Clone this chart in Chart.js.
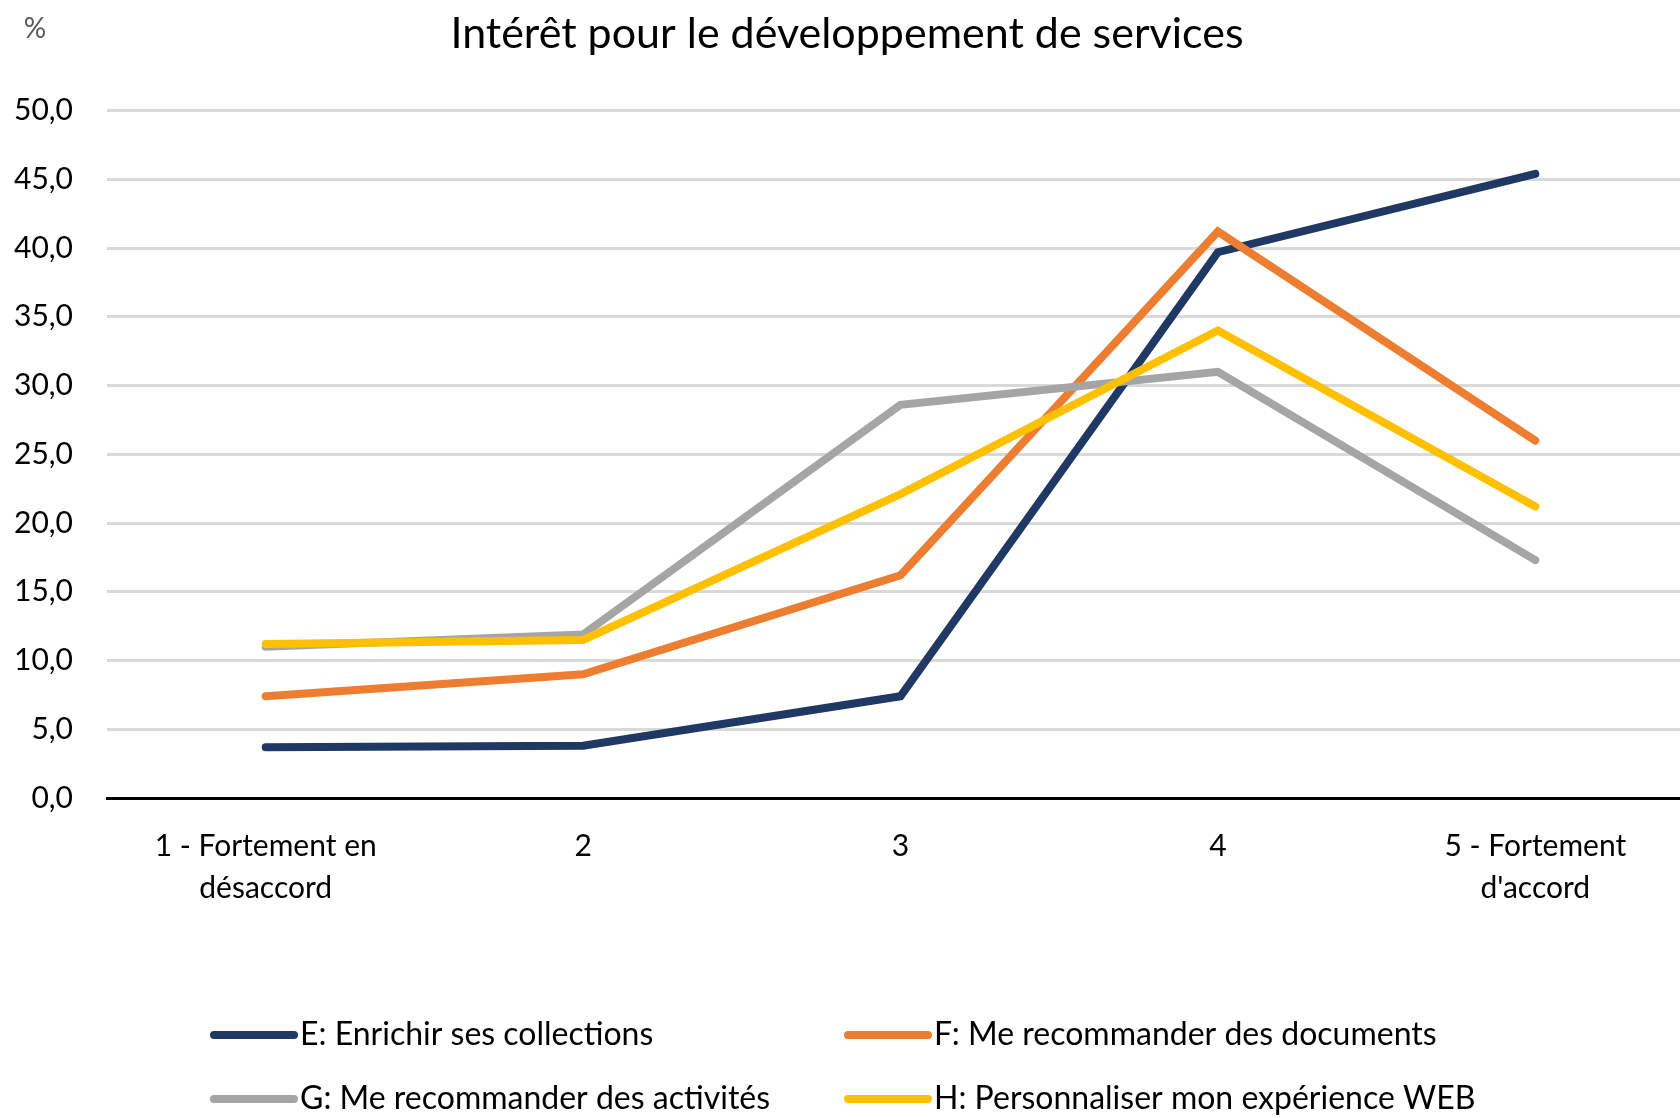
<!DOCTYPE html>
<html lang="fr">
<head>
<meta charset="utf-8">
<title>Intérêt pour le développement de services</title>
<script src="https://cdn.jsdelivr.net/npm/chart.js@4"></script>
<style>
  html, body { margin: 0; padding: 0; background: #fff; overflow: hidden; }
  #wrap { width: 1694px; height: 1118px; position: relative; }
</style>
</head>
<body>
<div id="wrap"><canvas id="graphique"></canvas></div>
<script>
// ==========================
// DONNÉES
// ==========================
const titre = "Intérêt pour le développement de services";
const uniteY = "%";
const categories = [["1 - Fortement en", "désaccord"], "2", "3", "4", ["5 - Fortement", "d'accord"]];
const nomsSeries = [
  "E: Enrichir ses collections",
  "F: Me recommander des documents",
  "G: Me recommander des activités",
  "H: Personnaliser mon expérience WEB"
];
const serieE = [3.7, 3.8, 7.4, 39.7, 45.4];
const serieF = [7.4, 9.0, 16.2, 41.2, 26.0];
const serieG = [11.0, 11.9, 28.6, 31.0, 17.3];
const serieH = [11.2, 11.5, 22.1, 34.0, 21.2];
const couleurs = ["#203864", "#ED7D31", "#A5A5A5", "#FFC000"];

const police = "Lato, 'Noto Sans', sans-serif";

// ==========================
// LÉGENDE (2 colonnes) + "%"
// ==========================
const legendePerso = {
  id: "legendePerso",
  afterDraw(chart) {
    const c = chart.ctx;
    c.save();
    // unité de l'axe
    c.font = "28px " + police;
    c.fillStyle = "#595959";
    c.textAlign = "center";
    c.textBaseline = "middle";
    c.fillText(uniteY, 35, 29);

    const colX = [214, 848];
    const rowY = [1035, 1099];
    c.font = "32px " + police;
    c.textAlign = "left";
    chart.data.datasets.forEach((ds, i) => {
      const x = colX[i % 2];
      const y = rowY[Math.floor(i / 2)];
      c.strokeStyle = ds.borderColor;
      c.lineWidth = 8;
      c.lineCap = "round";
      c.beginPath();
      c.moveTo(x, y);
      c.lineTo(x + 80, y);
      c.stroke();
      c.fillStyle = "#000";
      c.fillText(ds.label, x + 86, y);
    });
    c.restore();
  }
};

// ==========================
// GRAPHIQUE
// ==========================
const series = [serieE, serieF, serieG, serieH];
new Chart(document.getElementById("graphique"), {
  type: "line",
  data: {
    labels: categories,
    datasets: series.map((d, i) => ({
      label: nomsSeries[i],
      data: d,
      borderColor: couleurs[i],
      backgroundColor: couleurs[i],
      borderWidth: 8,
      borderCapStyle: "round",
      borderJoinStyle: "miter",
      pointRadius: 0,
      tension: 0,
      order: series.length - i
    }))
  },
  options: {
    responsive: true,
    maintainAspectRatio: false,
    animation: false,
    layout: { padding: 0 },
    plugins: {
      legend: { display: false },
      tooltip: { enabled: false },
      title: {
        display: true,
        text: titre,
        color: "#000",
        font: { family: police, size: 43, weight: "normal", lineHeight: 1.2 },
        padding: { top: 8, bottom: 51 }
      }
    },
    scales: {
      x: {
        offset: true,
        grid: { display: false },
        border: { display: true, color: "#000", width: 3 },
        ticks: {
          color: "#000",
          padding: 19,
          maxRotation: 0,
          autoSkip: false,
          font: { family: police, size: 30, lineHeight: 1.4 }
        },
        afterFit(scale) { scale.height = 320; }
      },
      y: {
        min: 0,
        max: 50,
        border: { display: false },
        grid: {
          drawTicks: false,
          lineWidth: 3,
          color: (ctx) => (ctx.tick && ctx.tick.value === 0 ? "#000" : "#D9D9D9")
        },
        ticks: {
          stepSize: 5,
          color: "#000",
          padding: 34,
          font: { family: police, size: 30 },
          callback: (v) => v.toFixed(1).replace(".", ",")
        },
        afterFit(scale) { scale.width = 107; }
      }
    }
  },
  plugins: [legendePerso]
});
</script>
</body>
</html>
